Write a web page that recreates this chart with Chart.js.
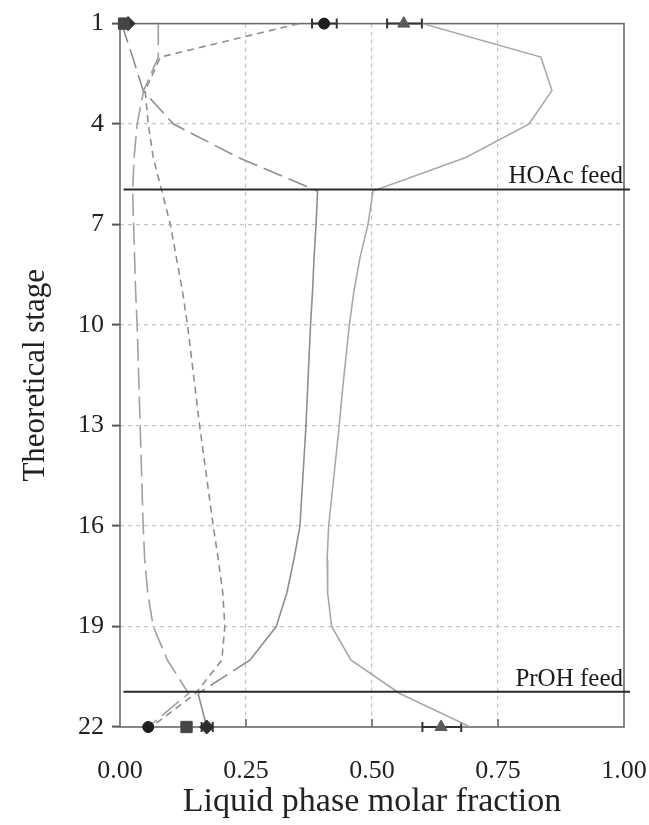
<!DOCTYPE html>
<html>
<head>
<meta charset="utf-8">
<script src="https://cdn.jsdelivr.net/npm/chart.js@4.4.1/dist/chart.umd.min.js"></script>
<style>
  html, body { margin: 0; padding: 0; background: #fff; }
  #chart { display: block; }
</style>
</head>
<body>
<canvas id="chart" width="649" height="825"></canvas>
<script>
// stage profile
const stages = [1, 2, 3, 4, 5, 6, 7, 8, 9, 10, 11, 12, 13, 14, 15, 16, 17, 18, 19, 20, 21, 22];
const curveA = [0.600, 0.835, 0.857, 0.811, 0.686, 0.502, 0.492, 0.476, 0.464, 0.455, 0.448, 0.441, 0.435, 0.428, 0.421, 0.414, 0.411, 0.412, 0.420, 0.458, 0.555, 0.695];
const curveB = [0.003, 0.025, 0.046, 0.106, 0.235, 0.392, 0.389, 0.385, 0.382, 0.378, 0.375, 0.372, 0.369, 0.365, 0.361, 0.357, 0.345, 0.331, 0.310, 0.258, 0.155, 0.172];
const curveC = [0.076, 0.076, 0.047, 0.034, 0.028, 0.025, 0.027, 0.029, 0.031, 0.034, 0.036, 0.038, 0.040, 0.042, 0.044, 0.046, 0.049, 0.055, 0.066, 0.094, 0.136, 0.056];
const curveD = [0.355, 0.080, 0.050, 0.056, 0.066, 0.083, 0.100, 0.112, 0.124, 0.134, 0.142, 0.150, 0.158, 0.167, 0.176, 0.185, 0.195, 0.204, 0.208, 0.202, 0.150, 0.062];

// feed stages
const feedStages = [5.95, 20.95];
const feedLabels = ['HOAc feed', 'PrOH feed'];

// experimental points at top and bottom
const expStages = [1, 22];
const circleX = [0.405, 0.056];
const circleLo = [0.381, null];
const circleHi = [0.430, null];
const squareX = [0.008, 0.132];
const diamondX = [0.016, 0.172];
const diamondLo = [null, 0.162];
const diamondHi = [null, 0.184];
const triangleX = [0.563, 0.637];
const triangleLo = [0.530, 0.600];
const triangleHi = [0.599, 0.677];

const xTicks = [0, 0.25, 0.5, 0.75, 1];

const SERIF = "'Liberation Serif', 'DejaVu Serif', serif";

const toPoints = (xs, ys) => xs.map((x, i) => ({ x: x, y: ys[i] }));

function curve(xs, color, dash, dashedFrom) {
    return {
        data: toPoints(xs, stages),
        showLine: true,
        borderColor: color,
        borderWidth: 1.6,
        borderDash: dash,
        pointRadius: 0,
        fill: false,
        order: 5,
        segment: dashedFrom ? {
            borderDash: ctx => dashedFrom.includes(stages[ctx.p0DataIndex]) ? [20, 7] : []
        } : undefined
    };
}

function marker(xs, style, radius, color, lo, hi) {
    return {
        data: toPoints(xs, expStages),
        showLine: false,
        pointStyle: style,
        pointRadius: radius,
        backgroundColor: color,
        borderColor: color,
        borderWidth: 1,
        clip: false,
        order: 1,
        errLo: lo,
        errHi: hi
    };
}

const feedDatasets = feedStages.map(s => ({
    data: [{ x: 0.007, y: s }, { x: 1.012, y: s }],
    showLine: true,
    borderColor: '#2a2a2a',
    borderWidth: 2,
    pointRadius: 0,
    clip: false,
    order: 3
}));

// box, inward x ticks, error bars and feed labels
const decorPlugin = {
    id: 'decor',
    beforeDatasetsDraw(chart) {
        const { ctx, chartArea: a, scales } = chart;
        ctx.save();
        ctx.strokeStyle = '#6a6a6a';
        ctx.lineWidth = 1.6;
        ctx.strokeRect(a.left, a.top, a.right - a.left, a.bottom - a.top);
        ctx.beginPath();
        xTicks.slice(1, -1).forEach(v => {
            const px = scales.x.getPixelForValue(v);
            ctx.moveTo(px, a.bottom);
            ctx.lineTo(px, a.bottom - 8);
        });
        ctx.stroke();

        // error bars
        ctx.strokeStyle = '#333';
        ctx.lineWidth = 2;
        chart.data.datasets.forEach(ds => {
            if (!ds.errLo) return;
            ds.data.forEach((p, i) => {
                if (ds.errLo[i] == null) return;
                const y = scales.y.getPixelForValue(p.y);
                const x0 = scales.x.getPixelForValue(ds.errLo[i]);
                const x1 = scales.x.getPixelForValue(ds.errHi[i]);
                ctx.beginPath();
                ctx.moveTo(x0, y); ctx.lineTo(x1, y);
                ctx.moveTo(x0, y - 5); ctx.lineTo(x0, y + 5);
                ctx.moveTo(x1, y - 5); ctx.lineTo(x1, y + 5);
                ctx.stroke();
            });
        });
        ctx.restore();
    },
    afterDatasetsDraw(chart) {
        const { ctx, scales } = chart;
        ctx.save();
        ctx.font = '25px ' + SERIF;
        ctx.fillStyle = '#1a1a1a';
        ctx.textAlign = 'right';
        ctx.textBaseline = 'alphabetic';
        feedStages.forEach((s, i) => {
            ctx.fillText(feedLabels[i], scales.x.getPixelForValue(1) - 1, scales.y.getPixelForValue(s) - 6);
        });
        ctx.restore();
    }
};

const config = {
    type: 'scatter',
    data: {
        datasets: [
            marker(circleX, 'circle', 5.5, '#1e1e1e', circleLo, circleHi),
            marker(squareX, 'rect', 8, '#454545'),
            marker(diamondX, 'rectRot', 7, '#2e2e2e', diamondLo, diamondHi),
            marker(triangleX, 'triangle', 7, '#5a5a5a', triangleLo, triangleHi),
            ...feedDatasets,
            curve(curveA, '#a8a8a8', []),
            curve(curveB, '#8e8e8e', [], [1, 2, 3, 4, 5, 20]),
            curve(curveC, '#a0a0a0', [22, 7]),
            curve(curveD, '#8e8e8e', [7, 5])
        ]
    },
    plugins: [decorPlugin],
    options: {
        responsive: false,
        animation: false,
        layout: { padding: { top: 19.5, right: 0, left: 0, bottom: 0 } },
        plugins: { legend: { display: false }, tooltip: { enabled: false } },
        scales: {
            x: {
                type: 'linear',
                min: 0,
                max: 1,
                afterBuildTicks: s => { s.ticks = xTicks.map(v => ({ value: v })); },
                ticks: {
                    callback: v => v.toFixed(2),
                    color: '#222',
                    font: { family: SERIF, size: 26 },
                    padding: 29,
                    maxRotation: 0
                },
                grid: {
                    drawTicks: false,
                    color: ctx => (ctx.tick && (ctx.tick.value === 0 || ctx.tick.value === 1)) ? 'rgba(0,0,0,0)' : '#c4c4c4',
                    lineWidth: 1.2
                },
                border: { display: false, dash: [4, 4] },
                title: {
                    display: true,
                    text: 'Liquid phase molar fraction',
                    color: '#222',
                    font: { family: SERIF, size: 34 },
                    padding: { top: 0, bottom: 3 }
                },
                afterFit: s => {
                    s.height = 98;
                    s.paddingLeft = 0;
                    s.paddingRight = 25;
                }
            },
            y: {
                type: 'linear',
                reverse: true,
                min: 1,
                max: 22,
                ticks: {
                    stepSize: 3,
                    color: '#222',
                    font: { family: SERIF, size: 26 },
                    padding: 8
                },
                grid: {
                    drawTicks: true,
                    tickLength: 8,
                    tickColor: '#555',
                    tickWidth: 2,
                    tickBorderDash: [],
                    color: ctx => (ctx.tick && (ctx.tick.value === 1 || ctx.tick.value === 22)) ? 'rgba(0,0,0,0)' : '#c4c4c4',
                    lineWidth: 1.2
                },
                border: { display: false, dash: [4, 4] },
                title: {
                    display: true,
                    text: 'Theoretical stage',
                    color: '#222',
                    font: { family: SERIF, size: 31 },
                    padding: { top: 17, bottom: 0 }
                },
                afterFit: s => { s.width = 120; }
            }
        }
    }
};

new Chart(document.getElementById('chart').getContext('2d'), config);
</script>
</body>
</html>
